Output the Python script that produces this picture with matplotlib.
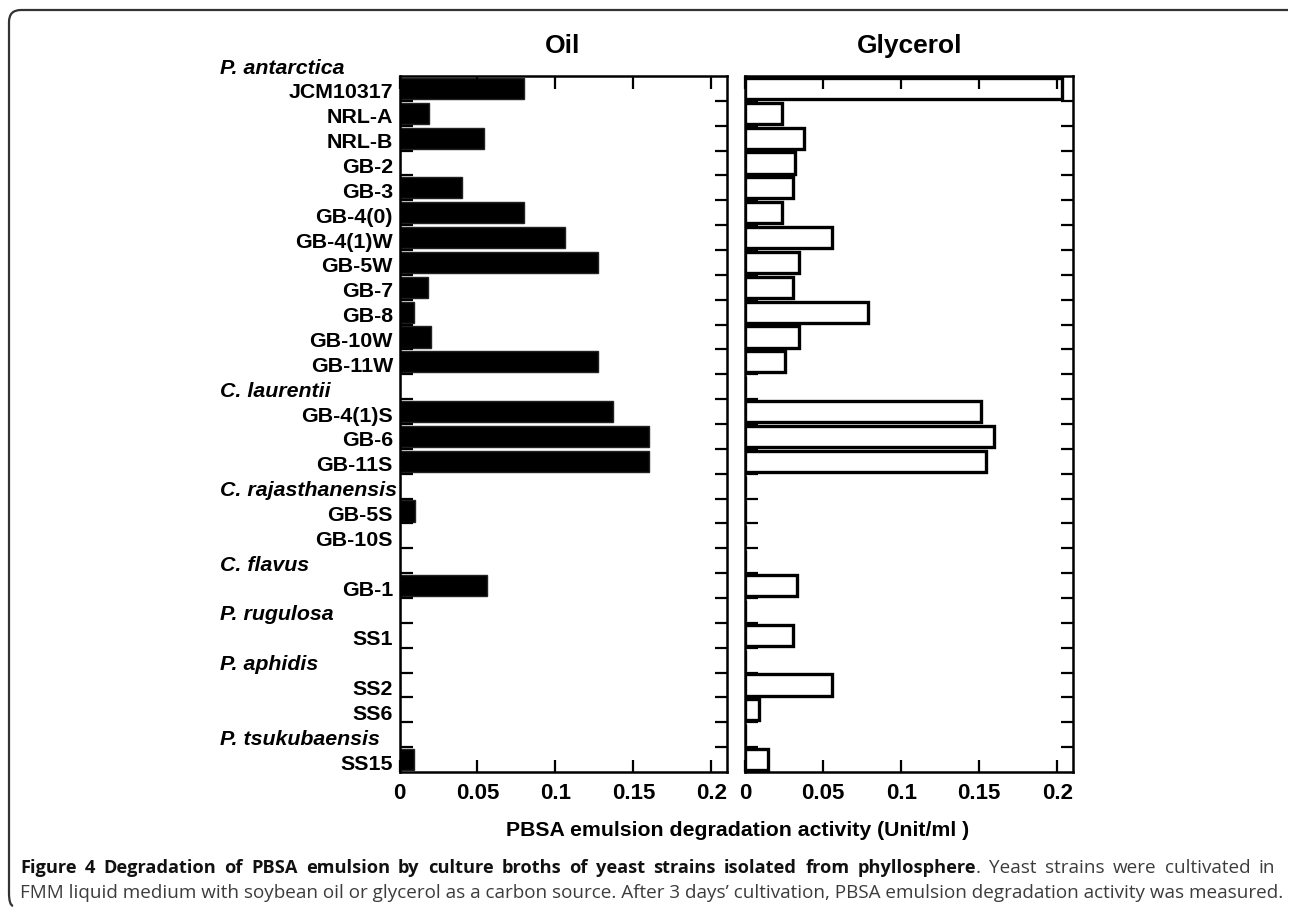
import matplotlib
matplotlib.use("Agg")
import matplotlib.pyplot as plt
from matplotlib.path import Path
from matplotlib.patches import PathPatch
from matplotlib.transforms import blended_transform_factory
import numpy as np

# ---------------- data ----------------
row_labels = ["JCM10317", "NRL-A", "NRL-B", "GB-2", "GB-3", "GB-4(0)", "GB-4(1)W",
              "GB-5W", "GB-7", "GB-8", "GB-10W", "GB-11W", "C. laurentii",
              "GB-4(1)S", "GB-6", "GB-11S", "C. rajasthanensis", "GB-5S", "GB-10S",
              "C. flavus", "GB-1", "P. rugulosa", "SS1", "P. aphidis", "SS2", "SS6",
              "P. tsukubaensis", "SS15"]
species_rows = ["C. laurentii", "C. rajasthanensis", "C. flavus", "P. rugulosa",
                "P. aphidis", "P. tsukubaensis"]
top_species = "P. antarctica"

oil = [0.080, 0.019, 0.054, 0.0, 0.040, 0.080, 0.106, 0.127, 0.018, 0.009, 0.020, 0.127,
       0.0, 0.137, 0.160, 0.160, 0.0, 0.010, 0.0, 0.0, 0.056, 0.0, 0.0, 0.0, 0.0, 0.0,
       0.0, 0.009]
glycerol = [0.203, 0.0234, 0.038, 0.032, 0.0307, 0.0234, 0.0554, 0.0345, 0.0307, 0.0788,
            0.0345, 0.0258, 0.0, 0.1512, 0.1597, 0.1546, 0.0, 0.0, 0.0, 0.0, 0.0332, 0.0,
            0.0309, 0.0, 0.0556, 0.0087, 0.0, 0.0149]
x_ticks = [0, 0.05, 0.1, 0.15, 0.2]
x_ticklabels = ["0", "0.05", "0.1", "0.15", "0.2"]
panel_titles = ["Oil", "Glycerol"]
x_label = "PBSA emulsion degradation activity (Unit/ml )"
caption_bold = "Figure 4 Degradation of PBSA emulsion by culture broths of yeast strains isolated from phyllosphere"
caption_rest1 = ". Yeast strains were cultivated in"
caption_line2 = "FMM liquid medium with soybean oil or glycerol as a carbon source. After 3 days\u2019 cultivation, PBSA emulsion degradation activity was measured."

# ---------------- figure ----------------
W, H = 1290, 910
DPI = 100
plt.rcParams['font.family'] = ['Liberation Sans', 'DejaVu Sans']
fig = plt.figure(figsize=(W / DPI, H / DPI), dpi=DPI)

def fx(px):
    return px / W

def fy(py):
    return 1 - py / H

ax_oil = fig.add_axes([fx(399.5), fy(772), fx(727) - fx(399.5), fy(76) - fy(772)])
ax_gly = fig.add_axes([fx(745), fy(772), fx(1073) - fx(745), fy(76) - fy(772)])

n = len(row_labels)
ypos = np.arange(1, n + 1)

ax_oil.barh(ypos, oil, height=0.85, color='black', edgecolor='#222222', linewidth=1.0)
ax_gly.barh(ypos, glycerol, height=0.85, color='white', edgecolor='black', linewidth=2.4)

for ax in (ax_oil, ax_gly):
    ax.set_xlim(0, 0.21)
    ax.set_ylim(n + 0.5, 0.5)
    ax.set_xticks(x_ticks)
    ax.set_xticklabels(x_ticklabels, fontsize=16, fontweight='bold')
    ax.set_yticks(np.arange(1.5, n, 1.0))
    ax.set_yticklabels([])
    ax.tick_params(axis='both', direction='in', length=9, width=1.6,
                   top=True, right=True, left=True, bottom=True)
    ax.tick_params(axis='x', pad=8)
    for s in ax.spines.values():
        s.set_linewidth(1.8)

# row labels
trans_lab = blended_transform_factory(fig.transFigure, ax_oil.transData)
for i, lab in enumerate(row_labels):
    y = ypos[i] + 0.18
    if lab in species_rows:
        ax_oil.text(fx(220), y, lab, transform=trans_lab, ha='left', va='center',
                    fontsize=15.4, fontweight='bold', fontstyle='italic', clip_on=False)
    else:
        ax_oil.text(fx(393), y, lab, transform=trans_lab, ha='right', va='center',
                    fontsize=15.4, fontweight='bold', clip_on=False)
ax_oil.text(fx(220), 0 + 0.18, top_species, transform=trans_lab, ha='left', va='center',
            fontsize=15.4, fontweight='bold', fontstyle='italic', clip_on=False)

# titles
fig.text(fx(563), fy(46), panel_titles[0], ha='center', va='center', fontsize=19, fontweight='bold')
fig.text(fx(910), fy(46), panel_titles[1], ha='center', va='center', fontsize=19, fontweight='bold')
fig.text(fx(738), fy(830), x_label, ha='center', va='center', fontsize=15.3, fontweight='bold')

# caption (justified first line, word by word)
cap_font = ['Open Sans', 'DejaVu Sans']
base = 13
t2 = fig.text(fx(20), fy(893), caption_line2, ha='left', va='center', fontsize=base,
              family=cap_font, color='#3c3c3c')
fig.canvas.draw()
r = fig.canvas.get_renderer()
size = base * 1255.0 / t2.get_window_extent(r).width
t2.set_fontsize(size)

tokens = []  # (text, bold, attach)
for w in caption_bold.split(' '):
    tokens.append((w, True, False))
rest = caption_rest1.split(' ')
tokens.append((rest[0], False, True))
for w in rest[1:]:
    tokens.append((w, False, False))

texts = []
for txt, bold, attach in tokens:
    t = fig.text(0, fy(868), txt, ha='left', va='center',
                 fontsize=size * (0.97 if bold else 1.0), family=cap_font,
                 fontweight='bold' if bold else 'normal',
                 color='#111111' if bold else '#3c3c3c')
    texts.append(t)
fig.canvas.draw()
widths = [t.get_window_extent(r).width for t in texts]
n_gaps = sum(1 for tk in tokens[1:] if not tk[2])
gap = (1255.0 - sum(widths)) / n_gaps
x = 20.0
for i, (t, w) in enumerate(zip(texts, widths)):
    if i > 0:
        x += 0 if tokens[i][2] else gap
    t.set_position((fx(x), fy(868)))
    x += w

# border (top and left, rounded corners)
rad = 12
verts = [(fx(1288), fy(10)), (fx(9 + rad), fy(10)), (fx(9), fy(10)), (fx(9), fy(10 + rad)),
         (fx(9), fy(905 - rad)), (fx(9), fy(905)), (fx(9 + 4), fy(906))]
codes = [Path.MOVETO, Path.LINETO, Path.CURVE3, Path.CURVE3, Path.LINETO, Path.CURVE3, Path.CURVE3]
fig.add_artist(PathPatch(Path(verts, codes), transform=fig.transFigure, fill=False,
                         edgecolor='#333333', linewidth=1.6))

fig.savefig("out.png", dpi=DPI)
